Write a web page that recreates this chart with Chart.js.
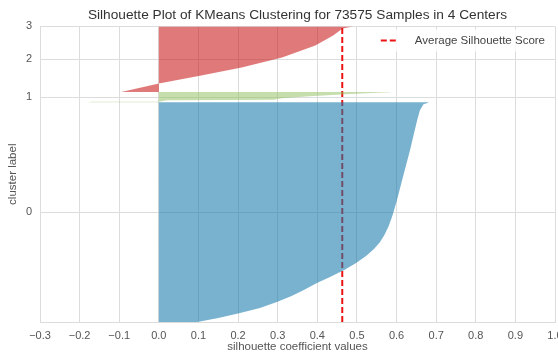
<!DOCTYPE html>
<html>
<head>
<meta charset="utf-8">
<script src="https://cdn.jsdelivr.net/npm/chart.js@4.4.1/dist/chart.umd.min.js"></script>
<style>
    html, body { margin: 0; padding: 0; background: #fff; overflow: hidden; }
    #wrap { width: 558px; height: 354px; }
</style>
</head>
<body>
<div id="wrap"><canvas id="silhouette"></canvas></div>
<script>
// sample index (stacked per cluster) and sorted silhouette values
const cluster0Y = [10, 995, 2238, 3482, 4974, 6466, 7958, 9699, 11192, 12932, 14673, 16414, 18155, 19896, 21637, 23875, 26611, 30341, 35315, 42776, 50237, 52724, 54217, 54590, 54720];
const cluster0X = [0.097, 0.150, 0.205, 0.255, 0.298, 0.335, 0.366, 0.399, 0.432, 0.468, 0.498, 0.523, 0.543, 0.558, 0.569, 0.580, 0.590, 0.601, 0.614, 0.634, 0.652, 0.659, 0.668, 0.680, 0.680];

const cluster1Y = [54740, 54839, 54889, 55211, 55386, 55709, 56206, 56704, 57077, 57251, 57300];
const cluster1X = [-0.180, -0.170, 0.000, 0.020, 0.290, 0.310, 0.380, 0.470, 0.550, 0.585, 0.585];

const cluster2Y = [57320, 59439, 61429, 63419, 65906, 68890, 71377, 73118, 73615];
const cluster2X = [-0.095, 0.000, 0.107, 0.209, 0.311, 0.395, 0.440, 0.464, 0.490];

const clusterTicks = [27365, 56020, 65468, 73625];
const clusterLabels = ['0', '1', '2', '3'];

const avgScore = 0.463;
const totalRows = 73625;

const xTicks = [-0.3, -0.2, -0.1, 0.0, 0.1, 0.2, 0.3, 0.4, 0.5, 0.6, 0.7, 0.8, 0.9, 1.0];

function silhouetteShape(ys, xs) {
    const pts = [{ x: 0, y: ys[0] }];
    ys.forEach((y, i) => pts.push({ x: xs[i], y: y }));
    pts.push({ x: 0, y: ys[ys.length - 1] });
    return pts;
}

function shapeDataset(label, ys, xs, color) {
    return {
        label: label,
        data: silhouetteShape(ys, xs),
        showLine: true,
        fill: 'shape',
        backgroundColor: color,
        borderWidth: 0,
        pointRadius: 0,
        pointHoverRadius: 0,
        tension: 0
    };
}

const fontFamily = '"Liberation Sans", Arial, sans-serif';

// legend drawn inside the plot, upper right
const avgLegend = {
    id: 'avgLegend',
    afterDatasetsDraw(chart) {
        const ds = chart.data.datasets.find(d => d.isAverage);
        const area = chart.chartArea;
        const ctx = chart.ctx;
        ctx.save();
        ctx.font = '11.5px ' + fontFamily;
        const textW = ctx.measureText(ds.label).width;
        const right = area.right - 10;
        const boxL = right - textW - 42;
        ctx.fillStyle = 'rgba(255,255,255,0.8)';
        ctx.fillRect(boxL, area.top + 3, right - boxL + 4, 22);
        const cy = area.top + 14;
        ctx.strokeStyle = ds.borderColor;
        ctx.lineWidth = ds.borderWidth;
        ctx.setLineDash(ds.borderDash);
        ctx.beginPath();
        ctx.moveTo(boxL + 8, cy);
        ctx.lineTo(boxL + 25, cy);
        ctx.stroke();
        ctx.setLineDash([]);
        ctx.fillStyle = '#444';
        ctx.textBaseline = 'middle';
        ctx.fillText(ds.label, boxL + 42, cy);
        ctx.restore();
    }
};

new Chart(document.getElementById('silhouette').getContext('2d'), {
    type: 'scatter',
    data: {
        datasets: [
            shapeDataset('0', cluster0Y, cluster0X, 'rgba(20,120,170,0.57)'),
            shapeDataset('1', cluster1Y, cluster1X, 'rgba(140,190,90,0.5)'),
            shapeDataset('2', cluster2Y, cluster2X, 'rgba(200,20,20,0.565)'),
            {
                label: 'Average Silhouette Score',
                isAverage: true,
                data: [{ x: avgScore, y: 0 }, { x: avgScore, y: totalRows }],
                showLine: true,
                borderColor: 'rgb(235,20,20)',
                borderWidth: 2,
                borderDash: [6, 3],
                pointRadius: 0,
                fill: false
            }
        ]
    },
    options: {
        responsive: true,
        maintainAspectRatio: false,
        animation: false,
        layout: { padding: { left: 0, right: 3, top: 0, bottom: 0 } },
        plugins: {
            legend: { display: false },
            tooltip: { enabled: false },
            title: {
                display: true,
                fullSize: false,
                text: 'Silhouette Plot of KMeans Clustering for 73575 Samples in 4 Centers',
                color: '#333',
                font: { family: fontFamily, size: 13.7, weight: 'normal' },
                padding: { top: 7, bottom: 3 }
            }
        },
        scales: {
            x: {
                type: 'linear',
                min: -0.3,
                max: 1.0,
                afterBuildTicks: scale => { scale.ticks = xTicks.map(v => ({ value: v })); },
                afterFit: scale => { scale.paddingLeft = 0; scale.paddingRight = 0; scale.height = 32; },
                grid: { color: '#dcdcdc', lineWidth: 1, drawTicks: false },
                border: { display: true, color: '#dcdcdc' },
                ticks: {
                    padding: 7,
                    color: '#555',
                    font: { family: fontFamily, size: 11 },
                    callback: (v, i) => {
                        const r = Math.round(xTicks[i] * 10) / 10;
                        return (r < 0 ? '\u2212' : '') + Math.abs(r).toFixed(1);
                    }
                },
                title: {
                    display: true,
                    text: 'silhouette coefficient values',
                    color: '#555',
                    font: { family: fontFamily, size: 11.5 },
                    padding: { top: 0, bottom: 0 }
                }
            },
            y: {
                type: 'linear',
                min: 0,
                max: totalRows,
                afterBuildTicks: scale => { scale.ticks = clusterTicks.map(v => ({ value: v })); },
                afterFit: scale => { scale.width = 40; },
                grid: { color: '#dcdcdc', lineWidth: 1, drawTicks: false },
                border: { display: true, color: '#dcdcdc' },
                ticks: {
                    padding: 8,
                    color: '#555',
                    font: { family: fontFamily, size: 11 },
                    callback: (v, i) => clusterLabels[i]
                },
                title: {
                    display: true,
                    text: 'cluster label',
                    color: '#555',
                    font: { family: fontFamily, size: 11.5 },
                    padding: { top: 6, bottom: 0 }
                }
            }
        }
    },
    plugins: [avgLegend]
});
</script>
</body>
</html>
